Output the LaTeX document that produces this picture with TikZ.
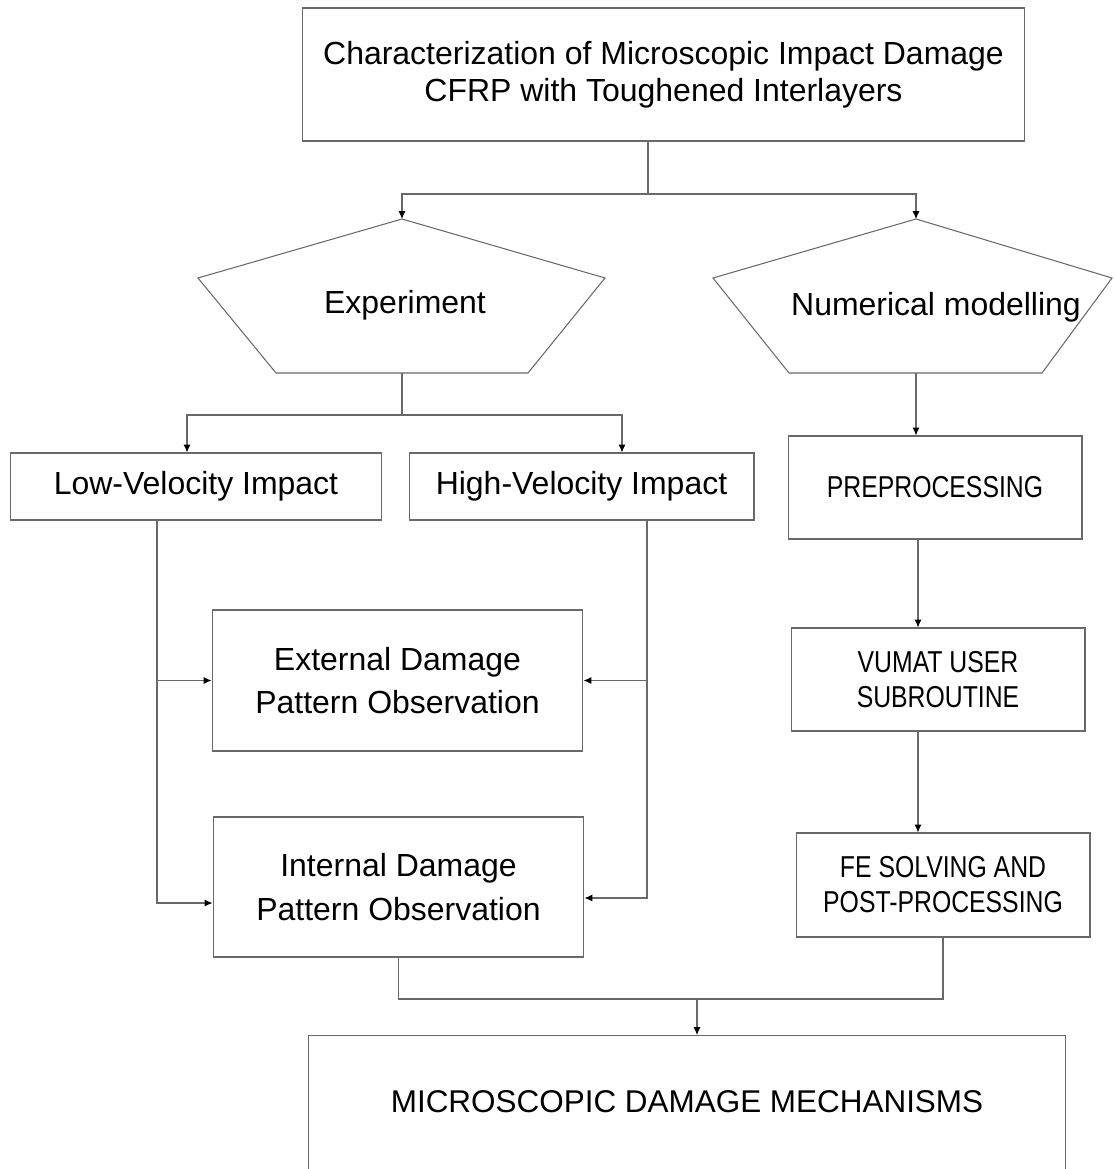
\documentclass[tikz,border=0pt]{standalone}
\usepackage{fontspec}
\setmainfont{Liberation Sans}
\newfontfamily\condfont[FakeStretch=0.82]{Liberation Sans}
\usetikzlibrary{arrows.meta, calc, positioning}
\definecolor{linegray}{RGB}{105,105,105}

\begin{document}
\begin{tikzpicture}[x=0.02cm, y=-0.02cm,
        box/.style={draw=linegray, line width=0.6pt, inner sep=0pt, align=center},
        bigtext/.style={font=\fontsize{18.2}{21}\selectfont},
        obstext/.style={font=\fontsize{18.2}{24.8}\selectfont},
        condtext/.style={font=\condfont\fontsize{17.2}{20}\selectfont},
        link/.style={draw=linegray, line width=0.6pt},
        arr/.style={link, -{Latex[length=4.5pt, width=4pt, color=black]}}]
        \clip (0,0) rectangle (1113,1169);

        % title
        \node[box, bigtext, minimum width=14.46cm, minimum height=2.66cm] (title) at (663.5,74.5) {Characterization of Microscopic Impact Damage\\CFRP with Toughened Interlayers};

        % the two branches
        \coordinate (exptop) at (402,219);
        \coordinate (expbot) at (402,373);
        \draw[link] (exptop) -- (605,278) -- (528,373) -- (276,373) -- (198,278) -- cycle;
        \node[bigtext] (exp) at (405,305) {Experiment};

        \coordinate (numtop) at (916,219);
        \coordinate (numbot) at (916,373);
        \draw[link] (numtop) -- (1112,278) -- (1042,373) -- (789,373) -- (713,278) -- cycle;
        \node[bigtext] (num) at (936,307) {Numerical modelling};

        % experiment side
        \node[box, bigtext, minimum width=7.44cm, minimum height=1.34cm] (low) at (196,486.5) {Low-Velocity Impact};
        \node[box, bigtext, minimum width=6.9cm, minimum height=1.34cm] (high) at (581.5,486.5) {High-Velocity Impact};
        \node[box, obstext, minimum width=7.42cm, minimum height=2.82cm] (ext) at (397.5,680.5) {External Damage\\Pattern Observation};
        \node[box, obstext, minimum width=7.42cm, minimum height=2.8cm] (int) at (398.5,887) {Internal Damage\\Pattern Observation};

        % numerical side
        \node[box, condtext, minimum width=5.88cm, minimum height=2.06cm] (pre) at (935,487.5) {PREPROCESSING};
        \node[box, condtext, minimum width=5.88cm, minimum height=2.06cm] (vumat) at (938,679.5) {VUMAT USER\\SUBROUTINE};
        \node[box, condtext, minimum width=5.88cm, minimum height=2.08cm] (fe) at (943,885) {FE SOLVING AND\\POST-PROCESSING};

        % result
        \node[box, anchor=north, minimum width=15.16cm, text height=1.54cm, text depth=1.5cm, font=\fontsize{17.9}{21}\selectfont] (micro) at (687,1035) {MICROSCOPIC DAMAGE MECHANISMS};

        % connectors
        \coordinate (split) at (648,194);
        \draw[link] (title.south -| split) -- (split);
        \draw[arr] (split) -| (exptop);
        \draw[arr] (split) -| (numtop);

        \coordinate (expsplit) at (402,415);
        \draw[link] (expbot) -- (expsplit);
        \draw[arr] (expsplit) -| ($(low.north)+(-9,0)$);
        \draw[arr] (expsplit) -| ($(high.north)+(40.5,0)$);
        \draw[arr] (numbot) -- (numbot |- pre.north);

        \coordinate (lrail) at (157,520);
        \coordinate (rrail) at (647,520);
        \draw[arr] (lrail |- ext.west) -- (ext.west);
        \draw[arr] (lrail) |- ($(int.west)+(0,16)$);
        \draw[arr] (rrail |- ext.east) -- (ext.east);
        \draw[arr] (rrail) |- ($(int.east)+(0,11)$);

        \coordinate (rcol) at (918,0);
        \draw[arr] (rcol |- pre.south) -- (rcol |- vumat.north);
        \draw[arr] (rcol |- vumat.south) -- (rcol |- fe.north);

        \coordinate (merge) at (697,999);
        \draw[link] (int.south) |- (merge);
        \draw[link] (fe.south) |- (merge);
        \draw[arr] (merge) -- (merge |- micro.north);
\end{tikzpicture}
\end{document}
